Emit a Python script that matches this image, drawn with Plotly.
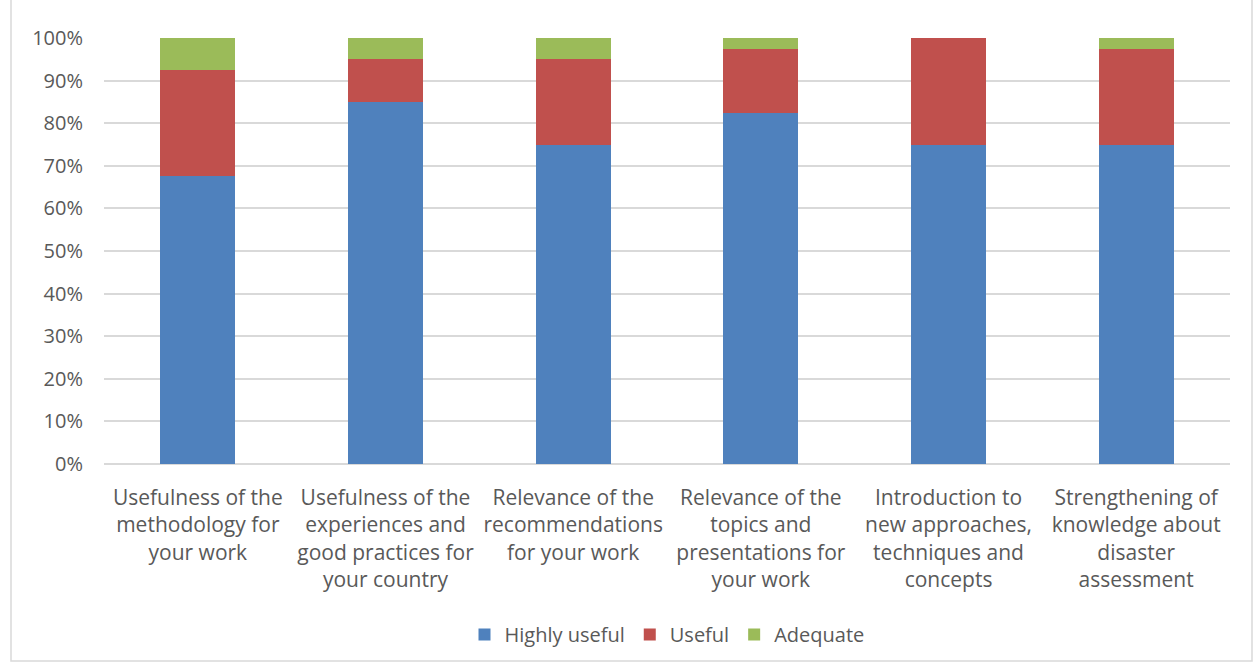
import plotly.graph_objects as go

categories = [
    "Usefulness of the<br>methodology for<br>your work",
    "Usefulness of the<br>experiences and<br>good practices for<br>your country",
    "Relevance of the<br>recommendations<br>for your work",
    "Relevance of the<br>topics and<br>presentations for<br>your work",
    "Introduction to<br>new approaches,<br>techniques and<br>concepts",
    "Strengthening of<br>knowledge about<br>disaster<br>assessment",
]
highly_useful = [67.5, 85, 75, 82.5, 75, 75]
useful = [25, 10, 20, 15, 25, 22.5]
adequate = [7.5, 5, 5, 2.5, 0, 2.5]

series = [
    ("Highly useful", highly_useful, "#4F81BD"),
    ("Useful", useful, "#C0504D"),
    ("Adequate", adequate, "#9BBB59"),
]

fig = go.Figure()
for name, vals, color in series:
    fig.add_trace(go.Bar(
        x=categories, y=vals, name=name,
        marker=dict(color=color, line=dict(width=0)),
        width=0.4,
    ))

font_family = "Open Sans, Noto Sans, sans-serif"
fig.update_layout(
    barmode="stack",
    width=1254, height=666,
    margin=dict(l=104, r=24, t=38, b=200),
    paper_bgcolor="white", plot_bgcolor="white",
    font=dict(family=font_family, size=20, color="#595959"),
    xaxis=dict(showgrid=False, showline=False, ticks="", tickangle=0,
               tickfont=dict(size=21, color="#595959"),
               ticklabelstandoff=19),
    yaxis=dict(range=[0, 100], dtick=10, ticksuffix="%", showgrid=True,
               gridcolor="#D9D9D9", gridwidth=1.5, zeroline=True,
               zerolinecolor="#D9D9D9", zerolinewidth=1.5,
               tickfont=dict(size=20, color="#595959"), ticks="",
               ticklabelstandoff=20),
    legend=dict(orientation="h", x=0.5, xanchor="center", y=-0.4,
                yanchor="middle", traceorder="normal",
                font=dict(size=20, color="#595959"), itemwidth=30),
    showlegend=True,
    bargap=0.6,
)
fig.add_shape(type="rect", xref="paper", yref="paper",
              x0=-93/1126, x1=1252/1126 - 104/1126, y0=-(200-2)/428, y1=(38+6)/428 + 1,
              line=dict(color="#D9D9D9", width=1.5), fillcolor="rgba(0,0,0,0)", layer="below")

fig.write_html("out.html")
